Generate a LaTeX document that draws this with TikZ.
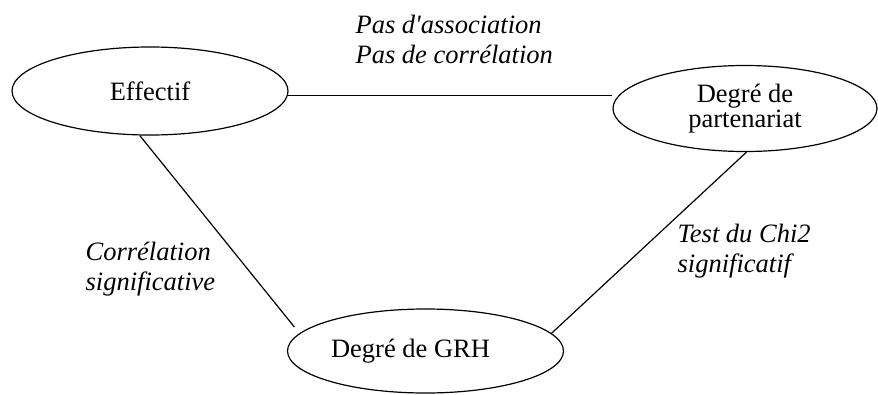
\documentclass[tikz,border=0pt]{standalone}
\usepackage{fontspec}
\setmainfont{Liberation Serif}
\usetikzlibrary{shapes.geometric}

\begin{document}
\begin{tikzpicture}[x=1pt,y=-1pt,line width=1.2pt,
    bulle/.style={draw,ellipse,inner sep=0pt,align=center,font=\fontsize{26.5}{25}\selectfont},
    lien/.style={inner sep=0pt,anchor=west,align=left,font=\fontsize{26.5}{30}\selectfont\itshape}]
    \useasboundingbox (0,0) rectangle (878,394);
    \draw node at (150,91)[name=effectif,bulle,minimum width=276,minimum height=88]{Effectif};
    \draw node at (745,108.5)[name=partenariat,bulle,minimum width=264,minimum height=86]{Degré de\\partenariat};
    \draw node at (425.5,351)[name=grh,bulle,minimum width=276,minimum height=84]{Degré de GRH\hspace*{30pt}};
    \draw (effectif.-2) -- (effectif.-2 -| partenariat.west);
    \draw[shorten >=8pt] (effectif.257) -- (grh.172);
    \draw (partenariat.272) -- (grh.8);

    \draw node at (355,39)[name=pasT,lien]{Pas d\textquotesingle association\\Pas de corrélation};
    \draw node at (85,269)[name=correlT,lien]{Corrélation\\significative};
    \draw node at (677,251)[name=chiT,lien]{Test du Chi2\\significatif};
\end{tikzpicture}
\end{document}
